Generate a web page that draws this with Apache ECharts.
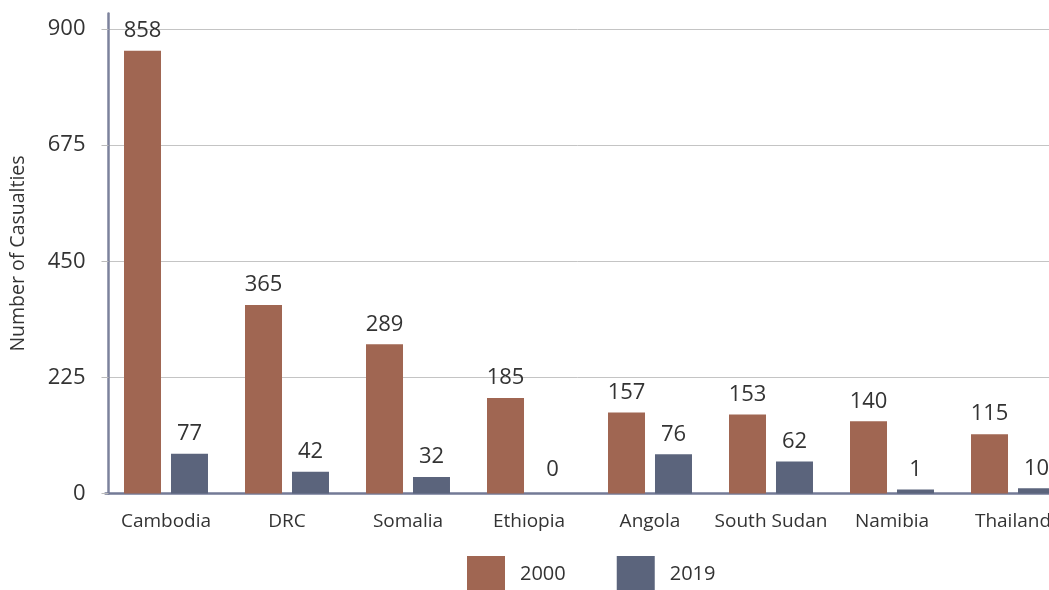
<!DOCTYPE html>
<html>
<head>
<meta charset="utf-8">
<script src="https://cdn.jsdelivr.net/npm/echarts@6/dist/echarts.min.js"></script>
<style>
html,body{margin:0;padding:0;background:#fff;}
#chart{width:1049px;height:590px;}
</style>
</head>
<body>
<div id="chart"></div>
<script>
const categories = ['Cambodia','DRC','Somalia','Ethiopia','Angola','South Sudan','Namibia','Thailand'];
const values2000 = [858, 365, 289, 185, 157, 153, 140, 115];
const values2019 = [77, 42, 32, 0, 76, 62, 1, 10];
const yTicks = [0, 225, 450, 675, 900];
const seriesNames = ['2000', '2019'];

const FONT = '"Open Sans", sans-serif';
const colors = ['#a06652', '#5b647c'];

function toData(arr) {
  return arr.map(v => v === 0 ? { value: v, itemStyle: { color: 'rgba(0,0,0,0)' } } : v);
}

const labelStyle = { show: true, position: 'top', distance: 9, fontSize: 22, color: '#333', fontFamily: FONT };

const chart = echarts.init(document.getElementById('chart'));
chart.setOption({
  animation: false,
  color: colors,
  textStyle: { fontFamily: FONT },
  grid: { left: 105.5, top: 13.5, right: -24.5, bottom: 96.5, containLabel: false, outerBoundsMode: 'none' },
  legend: {
    data: seriesNames,
    left: 462,
    top: 551,
    itemWidth: 38,
    itemHeight: 36,
    itemGap: 51,
    icon: 'rect',
    textStyle: { fontSize: 20, color: '#333', fontFamily: FONT, padding: [0, 0, 0, 10] }
  },
  xAxis: {
    type: 'category',
    data: categories,
    axisLine: { lineStyle: { color: '#737a96', width: 2.5 } },
    axisTick: { show: false },
    axisLabel: { fontSize: 19, color: '#333', margin: 19, fontFamily: FONT, interval: 0 }
  },
  yAxis: {
    type: 'value',
    min: 0,
    max: 930,
    offset: -3,
    name: 'Number of Casualties',
    nameLocation: 'middle',
    nameGap: 80,
    nameTextStyle: { fontSize: 19.5, color: '#333', fontFamily: FONT },
    axisLine: { show: true, lineStyle: { color: '#7c829c', width: 2.5 } },
    axisTick: { show: true, length: 7, customValues: yTicks, lineStyle: { color: '#bbbbbb' } },
    axisLabel: { fontSize: 22, color: '#333', margin: 23, fontFamily: FONT, customValues: yTicks },
    splitLine: { show: true, lineStyle: { color: '#c4c4c4', width: 1 } }
  },
  series: [
    {
      name: seriesNames[0],
      type: 'bar',
      data: toData(values2000),
      barWidth: 37,
      barGap: '27%',
      barMinHeight: 4,
      label: labelStyle
    },
    {
      name: seriesNames[1],
      type: 'bar',
      data: toData(values2019),
      barWidth: 37,
      barGap: '27%',
      barMinHeight: 4,
      label: labelStyle
    }
  ]
});
</script>
</body>
</html>
